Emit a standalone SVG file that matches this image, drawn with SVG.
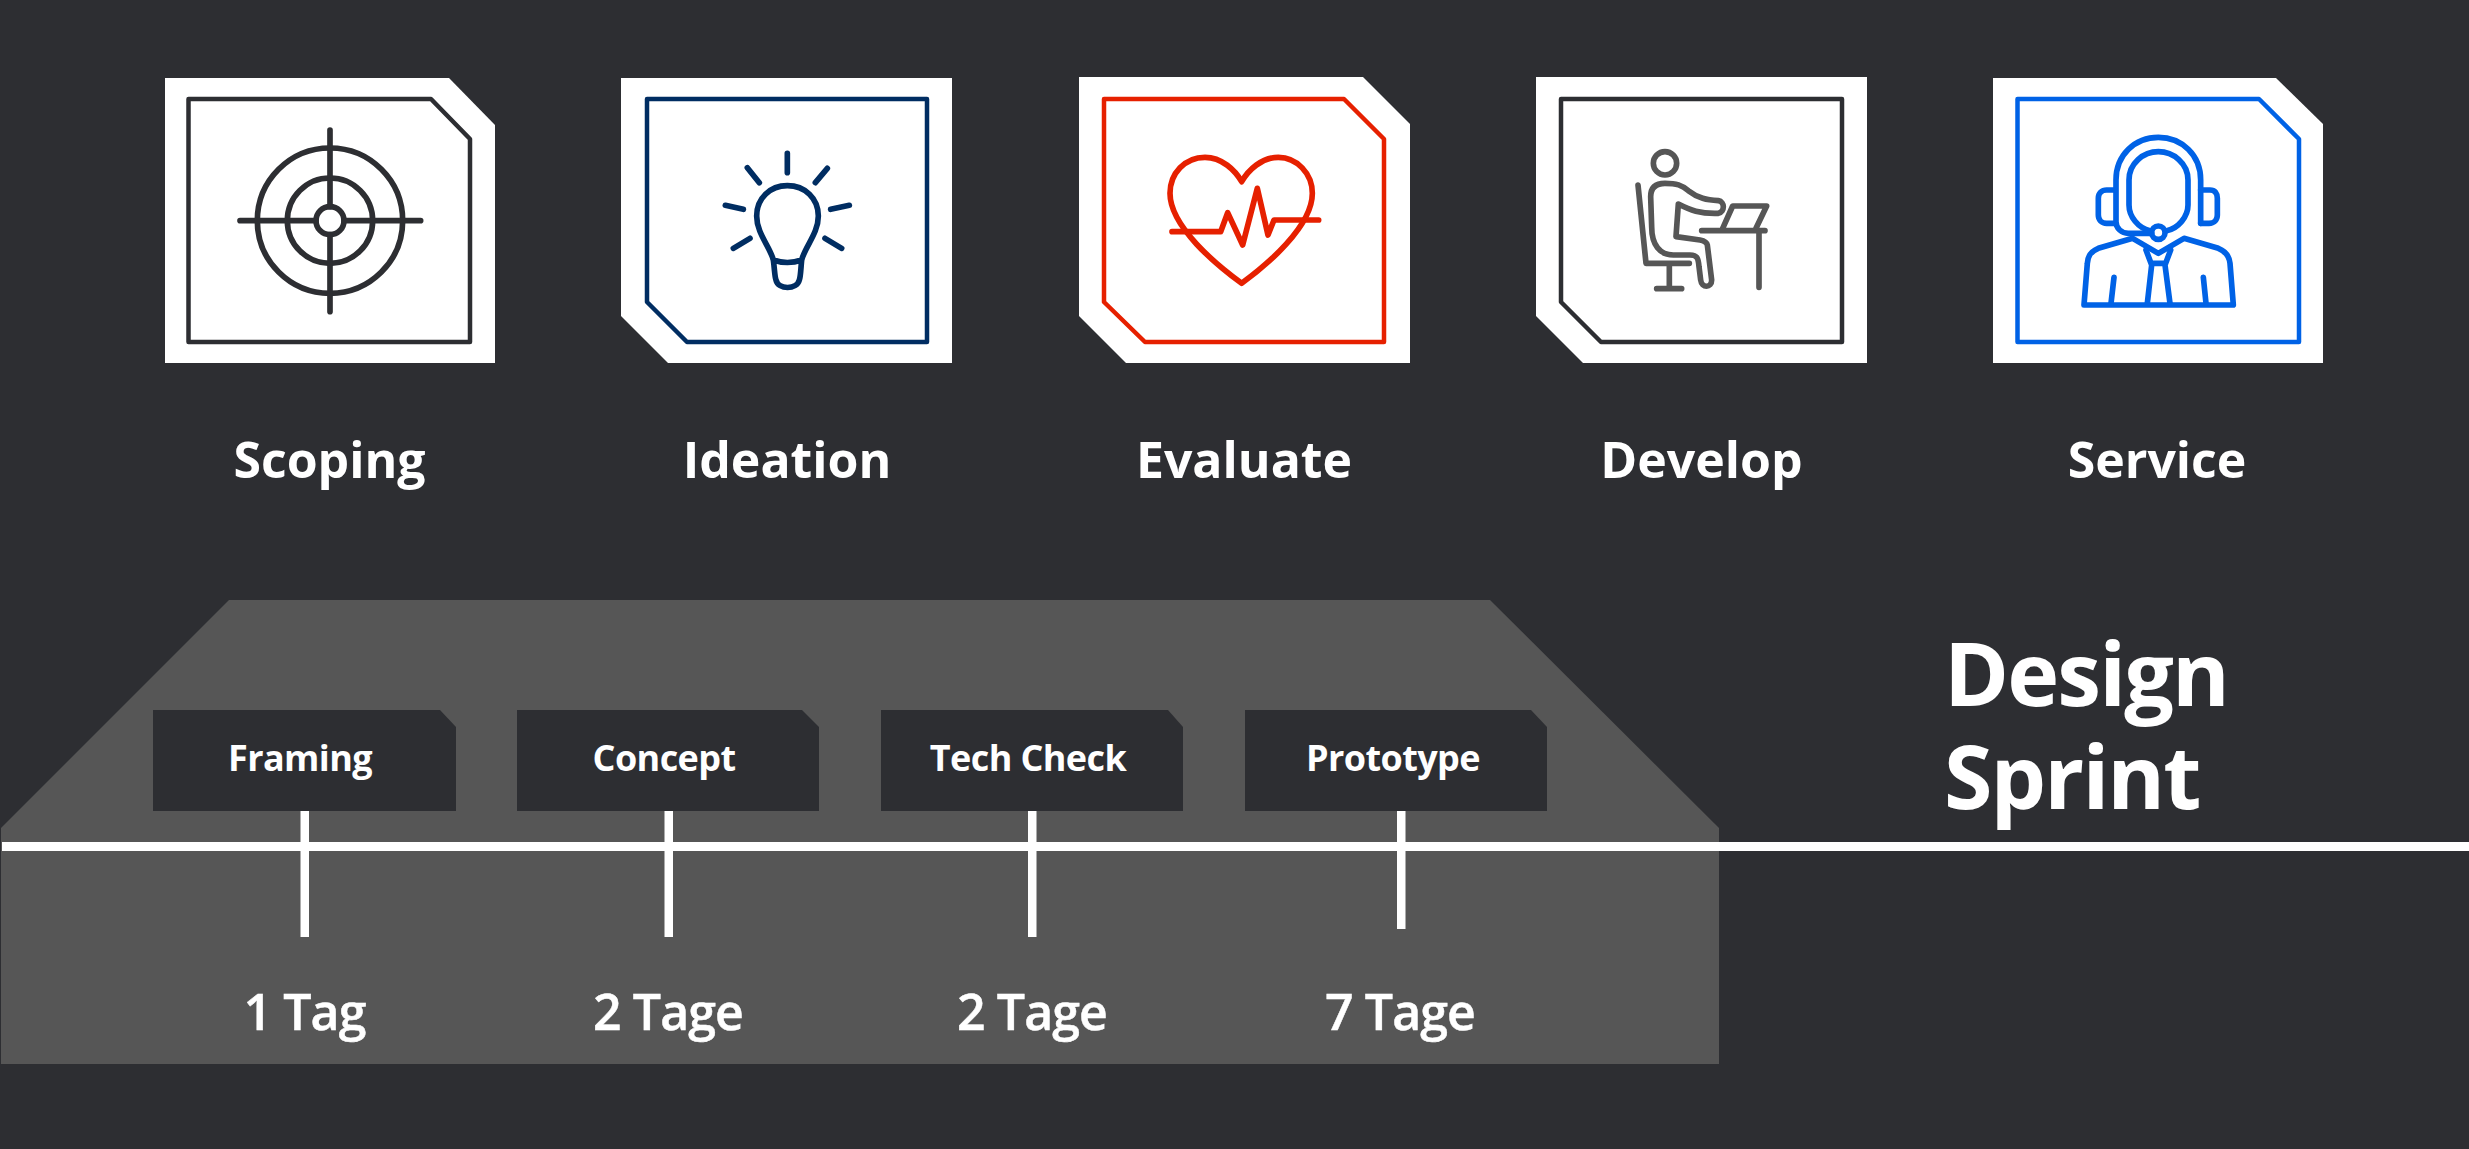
<svg xmlns="http://www.w3.org/2000/svg" width="2469" height="1149" viewBox="0 0 2469 1149">
<style>
.card{fill:#fff}
.inner{fill:none;stroke-width:4.500;stroke-linejoin:round}
.icon{fill:none;stroke-width:17;stroke-linecap:round;stroke-linejoin:round}
.t{font-family:"Open Sans","Liberation Sans",sans-serif;fill:#fff;text-anchor:middle}
.phase{font-size:50px;font-weight:700}
.box{font-size:36px;font-weight:700;letter-spacing:-.6px}
.dur{font-size:50px;font-weight:600;letter-spacing:-.9px;stroke:#fff;stroke-width:.5px}
.title{font-size:88px;font-weight:700;letter-spacing:-1.900px;text-anchor:start}
.w{fill:#fff}
.dark{fill:#2d2e32}
</style>
<rect width="2469" height="1149" fill="#2d2e32"/>
<polygon id="band" points="229,600 1490,600 1719,828 1719,1064 1,1064 1,828" fill="#565656"/>
<g id="connectors">
<rect class="w" x="2" y="842" width="2467" height="9"/>
<rect class="w" x="300.500" y="810" width="8.500" height="127"/>
<rect class="w" x="664.500" y="810" width="8.500" height="127"/>
<rect class="w" x="1028" y="810" width="8.500" height="127"/>
<rect class="w" x="1397" y="810" width="8.500" height="119"/>
</g>
<g id="scoping">
<polygon class="card" points="165,78 449,78 495,125 495,363 165,363"/>
<polygon class="inner" stroke="#2d2e32" points="188.500,99 431,99 470,139 470,342 188.500,342"/>
<g transform="translate(210 110) scale(.33333)" class="icon" stroke="#2d2e32">
<circle cx="360" cy="332" r="218"/><circle cx="360" cy="332" r="128"/><circle cx="360" cy="332" r="42"/>
<path d="M360,60V290M360,374V605M90,332H318M402,332H632"/>
</g>
<text class="t phase" x="329.500" y="478">Scoping</text>
</g>
<g id="ideation">
<polygon class="card" points="621,78 952,78 952,363 668,363 621,316"/>
<polygon class="inner" stroke="#002d62" points="647,99 927,99 927,342 687,342 647,302"/>
<g transform="translate(690 130) scale(.33333)" class="icon" stroke="#002d62">
<path d="M292,70V128M172,113L208,158M412,115L376,158M106,226L160,238M478,226L422,238M130,355L180,325M455,355L405,325"/>
<path d="M250,390C240,350 200,310 200,258C200,205 240,167 292,167C345,167 385,205 385,258C385,310 345,350 335,390C332,420 332,440 328,450C320,480 265,480 258,450C254,440 254,420 250,390ZM250,390Q292,405 335,390"/>
</g>
<text class="t phase" x="787" y="478">Ideation</text>
</g>
<g id="evaluate">
<polygon class="card" points="1079,77 1363,77 1410,124 1410,363 1126,363 1079,316"/>
<polygon class="inner" stroke="#e62000" points="1104,99 1344,99 1384,139 1384,342 1145,342 1104,302"/>
<g transform="translate(1150 130) scale(.33333)" class="icon" stroke="#e62000">
<path d="M275,155C255,120 215,82 165,82C105,82 60,130 60,190C60,290 200,405 275,460C350,405 487,290 487,190C487,130 440,82 385,82C335,82 295,120 275,155Z"/>
<path d="M66,305H212L233,248L278,345L322,175L354,315L372,270H506"/>
</g>
<text class="t phase" x="1244" y="478">Evaluate</text>
</g>
<g id="develop">
<polygon class="card" points="1536,77 1867,77 1867,363 1583,363 1536,316"/>
<polygon class="inner" stroke="#2d2e32" points="1561,99 1842,99 1842,342 1601,342 1561,302"/>
<g transform="translate(1610 130) scale(.33333)" class="icon" stroke="#565656">
<circle cx="165" cy="100" r="35"/>
<path d="M84,165L108,400H238M178,400V476M140,476H215"/>
<path d="M205,222C240,240 270,252 325,250C345,245 345,215 325,212C290,210 265,205 235,182C215,165 200,160 165,160C135,160 122,175 122,200L125,290C125,345 150,375 190,375H240C262,375 265,385 267,410L272,450C275,475 305,475 305,450L292,345C290,335 280,332 270,330L198,320Z"/>
<path d="M275,302H465M447,302V472M338,295L368,228H470L438,295"/>
</g>
<text class="t phase" x="1701.500" y="478">Develop</text>
</g>
<g id="service">
<polygon class="card" points="1993,78 2276,78 2323,124 2323,363 1993,363"/>
<polygon class="inner" stroke="#0062e6" points="2017.500,99 2259,99 2299,139 2299,342 2017.500,342"/>
<g transform="translate(2060 120) scale(.33333)" class="icon" stroke="#0062e6">
<path d="M422,310V180C422,105 365,52 295,52C225,52 168,105 168,180V305C168,325 185,340 205,340H275"/>
<path d="M422,210H450C465,210 472,220 472,235V285C472,300 462,310 447,310H422M165,210H140C125,210 115,220 115,235V285C115,300 125,310 140,310H165"/>
<path d="M270,332C235,325 207,290 207,255V180C207,130 250,95 295,95C340,95 384,130 384,180V255C384,290 355,325 320,332"/>
<circle cx="295" cy="338" r="20"/>
<path d="M218,355L115,385C90,395 83,410 82,430L72,555H520L510,430C508,410 500,395 475,385L372,355L295,400Z"/>
<path d="M258,390L275,435L262,550M332,390L315,435L330,550M275,430H315M162,472L153,550M430,472L438,550"/>
</g>
<text class="t phase" x="2157" y="478">Service</text>
</g>
<g id="framing">
<polygon class="dark" points="153,710 440,710 456,727 456,811 153,811"/>
<text class="t box" x="300" y="770.500">Framing</text>
<text class="t dur" x="304.500" y="1030">1 Tag</text>
</g>
<g id="concept">
<polygon class="dark" points="517,710 802,710 819,727 819,811 517,811"/>
<text class="t box" x="664" y="770.500">Concept</text>
<text class="t dur" x="668" y="1030">2 Tage</text>
</g>
<g id="tech-check">
<polygon class="dark" points="881,710 1168,710 1183,727 1183,811 881,811"/>
<text class="t box" x="1028" y="770.500">Tech Check</text>
<text class="t dur" x="1032" y="1030">2 Tage</text>
</g>
<g id="prototype">
<polygon class="dark" points="1245,710 1531,710 1547,727 1547,811 1245,811"/>
<text class="t box" x="1393" y="770.500">Prototype</text>
<text class="t dur" x="1400" y="1030">7 Tage</text>
</g>
<g id="title">
<text class="t title"><tspan x="1944" y="706">Design</tspan><tspan x="1944" y="809">Sprint</tspan></text>
</g>
</svg>
